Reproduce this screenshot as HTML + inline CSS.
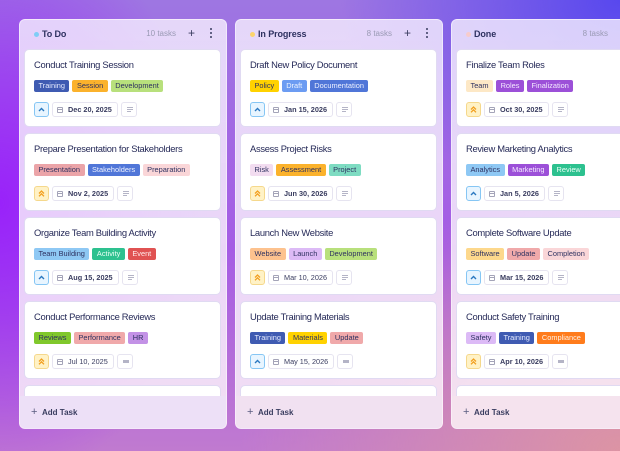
<!DOCTYPE html>
<html><head><meta charset="utf-8">
<style>
*{box-sizing:border-box;margin:0;padding:0}
html,body{width:620px;height:451px;overflow:hidden}
body{font-family:"Liberation Sans",sans-serif;position:relative;
background:
 radial-gradient(ellipse 280px 210px at 100% 0%, #5848ee 0%, rgba(88,72,238,0) 100%),
 radial-gradient(ellipse 210px 280px at 0% 45%, #9922fa 0%, rgba(153,34,250,0) 100%),
 radial-gradient(ellipse 380px 260px at 100% 100%, #dc94a4 0%, rgba(220,148,164,0) 100%),
 linear-gradient(180deg,#9e76e2 0%,#a55ce4 55%,#c07ad0 100%);}
.col{position:absolute;top:19px;width:208px;height:410px;border-radius:6px;overflow:hidden;
background:linear-gradient(180deg,rgba(246,240,255,0.8),rgba(252,242,250,0.84));border:1px solid rgba(255,255,255,0.45)}
.hd{position:absolute;left:0;top:0;width:100%;height:30px;color:#2e3160}
.dot{position:absolute;left:14px;top:12px;width:5px;height:5px;border-radius:50%}
.ttl{position:absolute;left:22px;top:8px;font-size:9px;font-weight:bold;line-height:12px;letter-spacing:-0.1px}
.cnt{position:absolute;right:50px;top:8px;font-size:8px;color:#9a9ab4;line-height:12px}
.plus{position:absolute;left:168px;top:7px;font-size:12px;line-height:12px;color:#3a3d60}
.more{position:absolute;left:190px;top:8px;width:2px;height:10px}
.more i{display:block;width:2px;height:2px;border-radius:1px;background:#3a3d60;margin-bottom:2px}
.card{position:absolute;left:4px;width:197px;height:78px;background:#fff;border:1px solid #e0daf2;border-radius:5px}
.ct{position:absolute;left:9px;top:9px;font-size:9.4px;letter-spacing:-0.3px;color:#262a58;line-height:12px;white-space:nowrap}
.tags{position:absolute;left:9px;top:30px;display:flex;gap:3px}
.tag{height:12px;line-height:12px;font-size:7.4px;padding:0 4.5px;border-radius:2px;white-space:nowrap;color:#2e3160}
.bot{position:absolute;left:9px;top:52px;display:flex;gap:3px}
.pr{width:15px;height:15px;border-radius:3px;border:1px solid;display:flex;align-items:center;justify-content:center}
.pr.lo{background:#e8f5ff;border-color:#86c6f4}
.pr.hi{background:#fff2c6;border-color:#f5d88c}
.date{height:15px;border:1px solid #e6e4f0;border-radius:3px;display:flex;align-items:center;padding:0 5px 0 4px;font-size:7.3px;font-weight:bold;color:#3a3d60;white-space:nowrap}
.cal{width:6px;height:6px;border:1px solid #a4a4b8;border-radius:1px;margin-right:5px;position:relative}
.cal:before{content:"";position:absolute;left:0;right:0;top:1px;height:1px;background:#a4a4b8}
.desc{width:16px;height:15px;border:1px solid #e6e4f0;border-radius:3px;position:relative}
.desc i{position:absolute;left:5px;height:1px;background:#b4b4c6}
.ft{position:absolute;left:0;bottom:0;width:100%;height:32px;color:#3a3d60;font-size:8px;font-weight:bold}
.ft span{position:absolute;left:22px;top:11px;line-height:12px}
.ft b{position:absolute;left:11px;top:10px;font-size:11px;font-weight:normal;line-height:12px;color:#5a5d80}
</style></head><body>

<!-- Column 1 -->
<div class="col" style="left:19px">
 <div class="hd"><div class="dot" style="background:#7fcdf6"></div><div class="ttl">To Do</div><div class="cnt">10 tasks</div><div class="plus">+</div><div class="more"><i></i><i></i><i></i></div></div>

 <div class="card" style="top:29px"><div class="ct">Conduct Training Session</div>
  <div class="tags"><div class="tag" style="background:#3f5bb2;color:#e6ecff">Training</div><div class="tag" style="background:#fbb22c">Session</div><div class="tag" style="background:#b8e07c">Development</div></div>
  <div class="bot"><div class="pr lo"><svg width="7" height="5" viewBox="0 0 7 5"><path d="M1 4 L3.5 1.5 L6 4" stroke="#2a78c0" stroke-width="1.4" fill="none"/></svg></div><div class="date"><div class="cal"></div>Dec 20, 2025</div><div class="desc"><i style="top:4px;width:6px"></i><i style="top:6px;width:6px"></i><i style="top:8px;width:4px"></i></div></div></div>

 <div class="card" style="top:113px"><div class="ct">Prepare Presentation for Stakeholders</div>
  <div class="tags"><div class="tag" style="background:#eba4a8">Presentation</div><div class="tag" style="background:#5076d8;color:#eef2ff">Stakeholders</div><div class="tag" style="background:#fad6d8">Preparation</div></div>
  <div class="bot"><div class="pr hi"><svg width="7" height="7" viewBox="0 0 7 7"><path d="M1 3.5 L3.5 1 L6 3.5 M1 6.3 L3.5 3.8 L6 6.3" stroke="#f2a020" stroke-width="1.3" fill="none"/></svg></div><div class="date"><div class="cal"></div>Nov 2, 2025</div><div class="desc"><i style="top:4px;width:6px"></i><i style="top:6px;width:6px"></i><i style="top:8px;width:4px"></i></div></div></div>

 <div class="card" style="top:197px"><div class="ct">Organize Team Building Activity</div>
  <div class="tags"><div class="tag" style="background:#8ec8f4">Team Building</div><div class="tag" style="background:#2dc18f;color:#eafff6">Activity</div><div class="tag" style="background:#e05252;color:#ffecec">Event</div></div>
  <div class="bot"><div class="pr lo"><svg width="7" height="5" viewBox="0 0 7 5"><path d="M1 4 L3.5 1.5 L6 4" stroke="#2a78c0" stroke-width="1.4" fill="none"/></svg></div><div class="date"><div class="cal"></div>Aug 15, 2025</div><div class="desc"><i style="top:4px;width:6px"></i><i style="top:6px;width:6px"></i><i style="top:8px;width:4px"></i></div></div></div>

 <div class="card" style="top:281px"><div class="ct">Conduct Performance Reviews</div>
  <div class="tags"><div class="tag" style="background:#80c82c">Reviews</div><div class="tag" style="background:#f0a9aa">Performance</div><div class="tag" style="background:#c392e6">HR</div></div>
  <div class="bot"><div class="pr hi"><svg width="7" height="7" viewBox="0 0 7 7"><path d="M1 3.5 L3.5 1 L6 3.5 M1 6.3 L3.5 3.8 L6 6.3" stroke="#f2a020" stroke-width="1.3" fill="none"/></svg></div><div class="date" style="font-weight:normal"><div class="cal"></div>Jul 10, 2025</div><div class="desc"><i style="top:5px;width:6px;height:3px"></i></div></div></div>

 <div class="card" style="top:365px"></div>
 <div class="ft" style="background:#ede0f7"><b>+</b><span>Add Task</span></div>
</div>

<!-- Column 2 -->
<div class="col" style="left:235px">
 <div class="hd"><div class="dot" style="background:#fcd46c"></div><div class="ttl">In Progress</div><div class="cnt">8 tasks</div><div class="plus">+</div><div class="more"><i></i><i></i><i></i></div></div>

 <div class="card" style="top:29px"><div class="ct">Draft New Policy Document</div>
  <div class="tags"><div class="tag" style="background:#ffd200">Policy</div><div class="tag" style="background:#6c9cf2;color:#eef4ff">Draft</div><div class="tag" style="background:#5076d8;color:#eef2ff">Documentation</div></div>
  <div class="bot"><div class="pr lo"><svg width="7" height="5" viewBox="0 0 7 5"><path d="M1 4 L3.5 1.5 L6 4" stroke="#2a78c0" stroke-width="1.4" fill="none"/></svg></div><div class="date"><div class="cal"></div>Jan 15, 2026</div><div class="desc"><i style="top:4px;width:6px"></i><i style="top:6px;width:6px"></i><i style="top:8px;width:4px"></i></div></div></div>

 <div class="card" style="top:113px"><div class="ct">Assess Project Risks</div>
  <div class="tags"><div class="tag" style="background:#f2dcf0">Risk</div><div class="tag" style="background:#fbb22c">Assessment</div><div class="tag" style="background:#7edcc2">Project</div></div>
  <div class="bot"><div class="pr hi"><svg width="7" height="7" viewBox="0 0 7 7"><path d="M1 3.5 L3.5 1 L6 3.5 M1 6.3 L3.5 3.8 L6 6.3" stroke="#f2a020" stroke-width="1.3" fill="none"/></svg></div><div class="date"><div class="cal"></div>Jun 30, 2026</div><div class="desc"><i style="top:4px;width:6px"></i><i style="top:6px;width:6px"></i><i style="top:8px;width:4px"></i></div></div></div>

 <div class="card" style="top:197px"><div class="ct">Launch New Website</div>
  <div class="tags"><div class="tag" style="background:#fdc28e">Website</div><div class="tag" style="background:#dcbaf6">Launch</div><div class="tag" style="background:#b8e07c">Development</div></div>
  <div class="bot"><div class="pr hi"><svg width="7" height="7" viewBox="0 0 7 7"><path d="M1 3.5 L3.5 1 L6 3.5 M1 6.3 L3.5 3.8 L6 6.3" stroke="#f2a020" stroke-width="1.3" fill="none"/></svg></div><div class="date" style="font-weight:normal"><div class="cal"></div>Mar 10, 2026</div><div class="desc"><i style="top:4px;width:6px"></i><i style="top:6px;width:6px"></i><i style="top:8px;width:4px"></i></div></div></div>

 <div class="card" style="top:281px"><div class="ct">Update Training Materials</div>
  <div class="tags"><div class="tag" style="background:#3f5bb2;color:#e6ecff">Training</div><div class="tag" style="background:#ffd200">Materials</div><div class="tag" style="background:#f0a9aa">Update</div></div>
  <div class="bot"><div class="pr lo"><svg width="7" height="5" viewBox="0 0 7 5"><path d="M1 4 L3.5 1.5 L6 4" stroke="#2a78c0" stroke-width="1.4" fill="none"/></svg></div><div class="date" style="font-weight:normal"><div class="cal"></div>May 15, 2026</div><div class="desc"><i style="top:5px;width:6px;height:3px"></i></div></div></div>

 <div class="card" style="top:365px"></div>
 <div class="ft" style="background:#f1e1f1"><b>+</b><span>Add Task</span></div>
</div>

<!-- Column 3 -->
<div class="col" style="left:451px">
 <div class="hd"><div class="dot" style="background:#f7cccc"></div><div class="ttl">Done</div><div class="cnt">8 tasks</div><div class="plus">+</div><div class="more"><i></i><i></i><i></i></div></div>

 <div class="card" style="top:29px"><div class="ct">Finalize Team Roles</div>
  <div class="tags"><div class="tag" style="background:#fde8c6">Team</div><div class="tag" style="background:#9c50d8;color:#f4eaff">Roles</div><div class="tag" style="background:#9c50d8;color:#f4eaff">Finalization</div></div>
  <div class="bot"><div class="pr hi"><svg width="7" height="7" viewBox="0 0 7 7"><path d="M1 3.5 L3.5 1 L6 3.5 M1 6.3 L3.5 3.8 L6 6.3" stroke="#f2a020" stroke-width="1.3" fill="none"/></svg></div><div class="date"><div class="cal"></div>Oct 30, 2025</div><div class="desc"><i style="top:4px;width:6px"></i><i style="top:6px;width:6px"></i><i style="top:8px;width:4px"></i></div></div></div>

 <div class="card" style="top:113px"><div class="ct">Review Marketing Analytics</div>
  <div class="tags"><div class="tag" style="background:#8ec8f4">Analytics</div><div class="tag" style="background:#9c50d8;color:#f4eaff">Marketing</div><div class="tag" style="background:#2dc18f;color:#eafff6">Review</div></div>
  <div class="bot"><div class="pr lo"><svg width="7" height="5" viewBox="0 0 7 5"><path d="M1 4 L3.5 1.5 L6 4" stroke="#2a78c0" stroke-width="1.4" fill="none"/></svg></div><div class="date"><div class="cal"></div>Jan 5, 2026</div><div class="desc"><i style="top:4px;width:6px"></i><i style="top:6px;width:6px"></i><i style="top:8px;width:4px"></i></div></div></div>

 <div class="card" style="top:197px"><div class="ct">Complete Software Update</div>
  <div class="tags"><div class="tag" style="background:#fdd88c">Software</div><div class="tag" style="background:#f0a9aa">Update</div><div class="tag" style="background:#fad6d8">Completion</div></div>
  <div class="bot"><div class="pr lo"><svg width="7" height="5" viewBox="0 0 7 5"><path d="M1 4 L3.5 1.5 L6 4" stroke="#2a78c0" stroke-width="1.4" fill="none"/></svg></div><div class="date"><div class="cal"></div>Mar 15, 2026</div><div class="desc"><i style="top:4px;width:6px"></i><i style="top:6px;width:6px"></i><i style="top:8px;width:4px"></i></div></div></div>

 <div class="card" style="top:281px"><div class="ct">Conduct Safety Training</div>
  <div class="tags"><div class="tag" style="background:#dcbaf6">Safety</div><div class="tag" style="background:#3f5bb2;color:#e6ecff">Training</div><div class="tag" style="background:#ff7c1c;color:#fff2e6">Compliance</div></div>
  <div class="bot"><div class="pr hi"><svg width="7" height="7" viewBox="0 0 7 7"><path d="M1 3.5 L3.5 1 L6 3.5 M1 6.3 L3.5 3.8 L6 6.3" stroke="#f2a020" stroke-width="1.3" fill="none"/></svg></div><div class="date"><div class="cal"></div>Apr 10, 2026</div><div class="desc"><i style="top:5px;width:6px;height:3px"></i></div></div></div>

 <div class="card" style="top:365px"></div>
 <div class="ft" style="background:#f5e3ee"><b>+</b><span>Add Task</span></div>
</div>

</body></html>
